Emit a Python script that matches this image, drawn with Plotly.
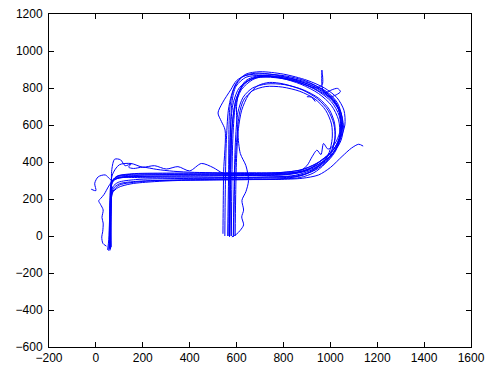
import plotly.graph_objects as go

# Trajectory data (x, y)
t1_x = [60, 60, 61, 62, 64, 72, 100, 200, 350, 500, 650, 800, 880, 950, 1005, 1038, 1048, 1036, 998, 935, 845, 745, 665, 612, 586, 575, 570, 568, 567]
t1_y = [-70, -20, 60, 150, 255, 305, 318, 322, 325, 326, 327, 330, 345, 380, 438, 515, 600, 680, 745, 795, 838, 858, 850, 802, 720, 600, 400, 200, 0]

t2_x = [55, 57, 58, 60, 65, 88, 150, 300, 450, 600, 750, 870, 940, 1000, 1040, 1062, 1058, 1028, 975, 900, 800, 700, 640, 600, 578, 565, 556, 552, 550]
t2_y = [-80, -30, 50, 180, 282, 322, 336, 340, 340, 338, 340, 356, 392, 448, 520, 600, 680, 748, 800, 842, 875, 888, 875, 830, 760, 680, 500, 250, 0]

t3_x = [65, 64, 63, 64, 70, 95, 150, 250, 350, 500, 650, 800, 895, 955, 1000, 1020, 1018, 995, 950, 885, 805, 730, 668, 628, 606, 596, 590, 586]
t3_y = [-60, 0, 100, 190, 232, 262, 282, 294, 300, 303, 305, 310, 335, 385, 450, 530, 610, 685, 745, 790, 818, 822, 800, 750, 670, 530, 300, -5]

t4_x = [50, 55, 58, 62, 70, 100, 150, 200, 250, 300, 350, 400, 450, 500, 542, 600, 700, 820, 905, 962, 1015, 1045, 1050, 1030, 985, 910, 820, 730, 670, 620, 595, 585, 580, 578]
t4_y = [-75, -20, 80, 200, 330, 385, 392, 372, 380, 362, 375, 352, 392, 370, 340, 336, 330, 334, 358, 410, 470, 550, 640, 720, 780, 826, 856, 866, 846, 790, 700, 550, 300, 0]

t5_x = [-20, 0, -5, 10, 40, 58, 70, 100, 180, 300, 450, 600, 750, 880, 950, 1010, 1045, 1056, 1042, 1002, 940, 850, 760, 680, 625, 590, 572, 566, 562]
t5_y = [253, 245, 285, 320, 330, 310, 300, 315, 328, 332, 334, 334, 336, 350, 388, 445, 515, 595, 675, 745, 800, 845, 872, 880, 860, 800, 700, 320, 0]

t6_x = [45, 30, 25, 29, 31, 26, 31, 20, 12, 22, 35, 55, 75, 110, 200, 320, 450, 560, 700, 850, 930, 990, 1028, 1045, 1038, 1005, 945, 865, 775, 695, 635, 600, 582, 574, 570]
t6_y = [-55, -40, -5, 23, 70, 100, 141, 170, 190, 205, 225, 270, 305, 316, 315, 314, 314, 316, 318, 328, 362, 412, 480, 565, 650, 725, 785, 832, 858, 862, 825, 745, 610, 360, -5]

t7_x = [62, 63, 64, 66, 68, 80, 105, 125, 150, 140, 160, 200, 260, 330, 420, 520, 650, 800, 890, 960, 1015, 1042, 1045, 1028, 988, 925, 840, 760, 700, 640, 598, 580, 572, 570]
t7_y = [-72, -10, 100, 250, 360, 415, 412, 380, 390, 372, 365, 372, 360, 350, 344, 342, 342, 344, 362, 405, 468, 548, 628, 708, 768, 812, 846, 862, 868, 858, 810, 720, 320, 0]

t8_x = [58, 59, 60, 62, 68, 90, 160, 300, 450, 600, 750, 870, 945, 1003, 1038, 1052, 1045, 1015, 965, 895, 805, 710, 640, 600, 575, 540, 521, 535, 551, 545, 543, 542]
t8_y = [-65, 0, 120, 230, 290, 322, 334, 336, 335, 334, 336, 348, 384, 436, 504, 584, 664, 738, 792, 838, 866, 876, 868, 840, 790, 720, 665, 620, 573, 350, 150, 12]

t9_x = [60, 61, 62, 63, 66, 80, 130, 250, 400, 560, 720, 860, 935, 990, 1025, 1040, 1035, 1005, 950, 875, 785, 700, 640, 610, 600, 605, 616, 640, 651, 640, 623, 630, 622, 630, 616, 600, 580]
t9_y = [-78, -30, 70, 170, 270, 305, 318, 320, 320, 318, 318, 326, 356, 406, 466, 548, 628, 705, 770, 820, 855, 868, 840, 780, 700, 560, 446, 380, 300, 240, 193, 140, 103, 60, 31, 10, -5]

t10_x = [63, 63, 64, 66, 72, 100, 200, 350, 500, 650, 780, 880, 950, 1000, 1050, 1090, 1121, 1140]
t10_y = [-65, 0, 120, 200, 240, 275, 295, 302, 304, 305, 306, 312, 330, 370, 430, 475, 496, 486]

t11_x = [57, 58, 60, 62, 67, 85, 140, 280, 430, 580, 730, 860, 900, 922, 943, 960, 971, 990, 1020, 1040, 1045, 1030, 1000, 980, 1030, 1043, 1000, 968, 964, 966, 940, 900, 830, 750, 680, 630, 598, 582, 575, 572]
t11_y = [-68, -10, 100, 200, 285, 318, 328, 330, 330, 328, 330, 345, 380, 428, 464, 440, 500, 470, 500, 560, 630, 700, 750, 770, 798, 780, 753, 790, 897, 820, 800, 815, 845, 862, 858, 818, 740, 600, 330, 0]

t12_x = [62, 62, 63, 65, 72, 95, 170, 320, 470, 620, 760, 860, 920, 965, 995, 1008, 1005, 980, 935, 870, 795, 725, 668, 630, 612, 602, 594, 590, 588]
t12_y = [-62, 10, 120, 210, 265, 290, 305, 310, 312, 312, 314, 322, 348, 392, 452, 528, 605, 680, 740, 782, 805, 808, 785, 735, 660, 540, 380, 200, 5]

t13_x = [900, 920, 935, 928]
t13_y = [753, 750, 728, 742]

t14_x = [64, 64, 65, 67, 75, 100, 180, 330, 480, 630, 770, 870, 930, 975, 1005, 1020, 1015, 990, 945, 880, 800, 740, 690, 650, 622, 608, 600, 596, 594]
t14_y = [-58, 20, 130, 215, 258, 282, 296, 302, 305, 306, 308, 316, 342, 388, 450, 525, 605, 680, 742, 790, 822, 830, 812, 760, 680, 580, 420, 200, 0]

trajectories = [
    (t1_x, t1_y), (t2_x, t2_y), (t3_x, t3_y), (t4_x, t4_y), (t5_x, t5_y),
    (t6_x, t6_y), (t7_x, t7_y), (t8_x, t8_y), (t9_x, t9_y), (t10_x, t10_y),
    (t11_x, t11_y), (t12_x, t12_y), (t13_x, t13_y), (t14_x, t14_y),
]

x_ticks = [-200, 0, 200, 400, 600, 800, 1000, 1200, 1400, 1600]
y_ticks = [-600, -400, -200, 0, 200, 400, 600, 800, 1000, 1200]

fig = go.Figure()
for tx, ty in trajectories:
    fig.add_trace(go.Scatter(
        x=tx, y=ty, mode="lines",
        line=dict(color="#0000ff", width=1, shape="spline", smoothing=0.8),
        showlegend=False, hoverinfo="skip",
    ))

axis_common = dict(
    showline=True, linecolor="black", linewidth=1, mirror="ticks",
    ticks="inside", ticklen=5, tickcolor="black", tickwidth=1,
    showgrid=False, zeroline=False, automargin=False,
    tickfont=dict(family="Liberation Sans, Arial, sans-serif", size=12, color="black"),
)

fig.update_layout(
    width=494, height=365,
    margin=dict(l=49, r=23, t=14, b=18),
    paper_bgcolor="white", plot_bgcolor="white",
    xaxis=dict(range=[-200, 1600], tickvals=x_ticks, ticktext=[str(v).replace("-", "\u2212") for v in x_ticks], **axis_common),
    yaxis=dict(range=[-600, 1200], tickvals=y_ticks, ticktext=[str(v).replace("-", "\u2212") for v in y_ticks], ticklabelstandoff=3, **axis_common),
)

fig.write_html(
    "out.html",
    config={"displayModeBar": False, "staticPlot": True},
    post_script="document.body.style.margin='0';document.body.style.overflow='hidden';",
)
